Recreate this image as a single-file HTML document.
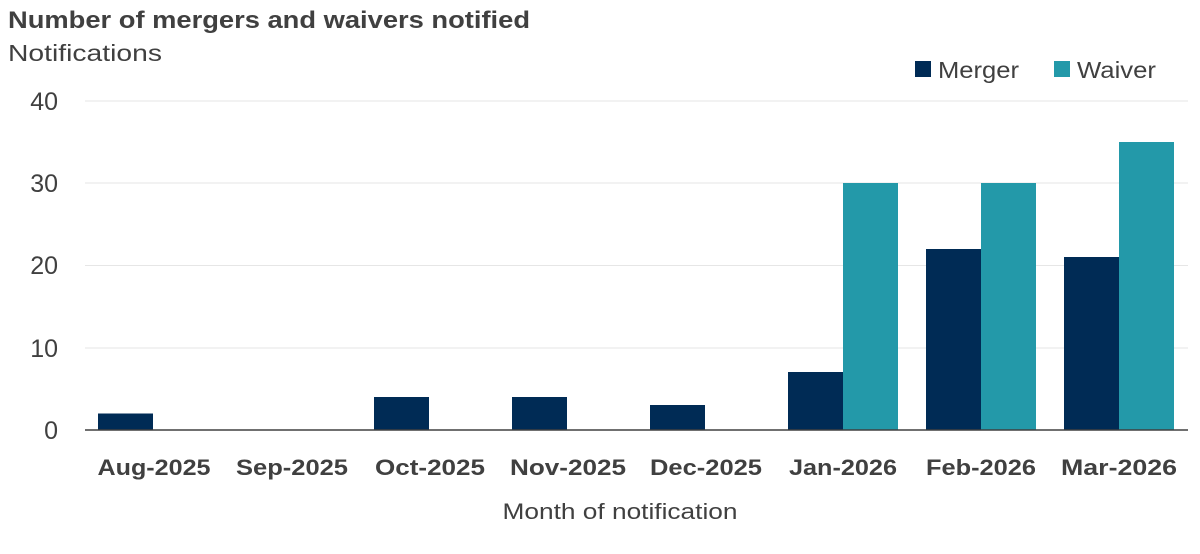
<!DOCTYPE html>
<html><head><meta charset="utf-8"><style>
body{margin:0;background:#fff;width:1200px;height:549px;overflow:hidden;font-family:"Liberation Sans",sans-serif;}
</style></head><body>
<svg width="1200" height="549" xmlns="http://www.w3.org/2000/svg" font-family="Liberation Sans, sans-serif">
<text x="8" y="28" font-size="24" font-weight="bold" fill="#404040" textLength="522" lengthAdjust="spacingAndGlyphs">Number of mergers and waivers notified</text>
<text x="8" y="61" font-size="23" fill="#404040" textLength="154" lengthAdjust="spacingAndGlyphs">Notifications</text>
<rect x="915" y="61" width="16" height="16" fill="#002B55"/>
<text x="938" y="78" font-size="23" fill="#404040" textLength="81" lengthAdjust="spacingAndGlyphs">Merger</text>
<rect x="1054" y="61" width="16" height="16" fill="#2399A9"/>
<text x="1077" y="78" font-size="23" fill="#404040" textLength="79" lengthAdjust="spacingAndGlyphs">Waiver</text>
<g stroke="#e6e6e6" stroke-width="1">
<line x1="85" y1="101" x2="1188" y2="101"/>
<line x1="85" y1="183" x2="1188" y2="183"/>
<line x1="85" y1="265.5" x2="1188" y2="265.5"/>
<line x1="85" y1="348" x2="1188" y2="348"/>
</g>
<g font-size="25" fill="#404040" text-anchor="end">
<text x="58" y="110">40</text><text x="58" y="192">30</text><text x="58" y="274">20</text><text x="58" y="357">10</text><text x="58" y="439">0</text>
</g>
<g fill="#002B55">
<rect x="98" y="413.5" width="55" height="16.5"/>
<rect x="374" y="397" width="55" height="33"/>
<rect x="512" y="397" width="55" height="33"/>
<rect x="650" y="405" width="55" height="25"/>
<rect x="788" y="372" width="55" height="58"/>
<rect x="926" y="249" width="55" height="181"/>
<rect x="1064" y="257" width="55" height="173"/>
</g>
<g fill="#2399A9">
<rect x="843" y="183" width="55" height="247"/>
<rect x="981" y="183" width="55" height="247"/>
<rect x="1119" y="142" width="55" height="288"/>
</g>
<line x1="85" y1="430" x2="1188" y2="430" stroke="#404040" stroke-width="1.5"/>
<g font-size="22" font-weight="bold" fill="#404040" text-anchor="middle">
<text x="154" y="475" textLength="113" lengthAdjust="spacingAndGlyphs">Aug-2025</text>
<text x="292" y="475" textLength="112" lengthAdjust="spacingAndGlyphs">Sep-2025</text>
<text x="430" y="475" textLength="110" lengthAdjust="spacingAndGlyphs">Oct-2025</text>
<text x="568" y="475" textLength="116" lengthAdjust="spacingAndGlyphs">Nov-2025</text>
<text x="706" y="475" textLength="112" lengthAdjust="spacingAndGlyphs">Dec-2025</text>
<text x="843" y="475" textLength="108" lengthAdjust="spacingAndGlyphs">Jan-2026</text>
<text x="981" y="475" textLength="110" lengthAdjust="spacingAndGlyphs">Feb-2026</text>
<text x="1119" y="475" textLength="116" lengthAdjust="spacingAndGlyphs">Mar-2026</text>
</g>
<text x="620" y="519" font-size="22" fill="#404040" text-anchor="middle" textLength="235" lengthAdjust="spacingAndGlyphs">Month of notification</text>
</svg>
</body></html>
